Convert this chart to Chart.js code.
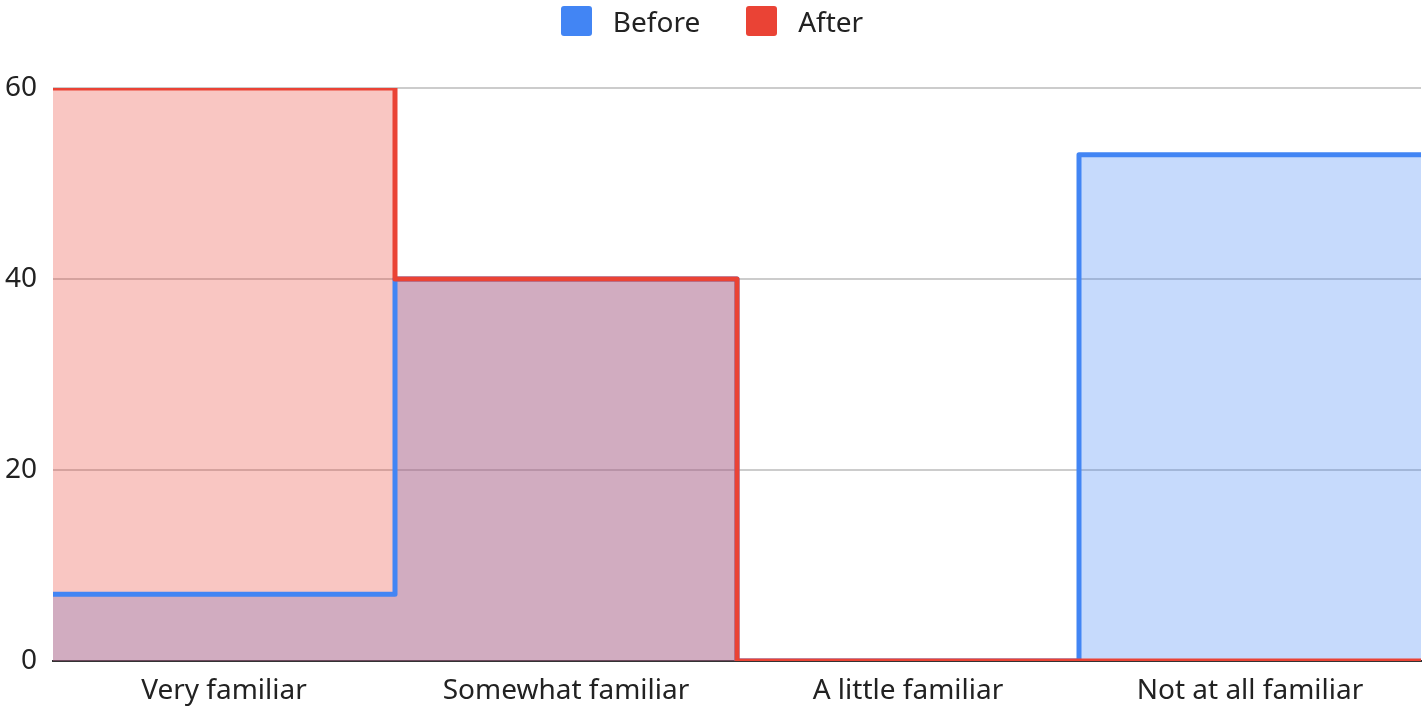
<!DOCTYPE html>
<html>
<head>
<meta charset="utf-8">
<script src="https://cdn.jsdelivr.net/npm/chart.js@4.4.1/dist/chart.umd.min.js"></script>
<style>
  html, body { margin: 0; padding: 0; background: #ffffff; }
  #wrap { width: 1424px; height: 709px; position: relative; }
  #legend {
    position: absolute; left: 0; top: 6px; width: 1424px; height: 30px;
    display: flex; justify-content: center; align-items: center; gap: 46px;
    font-family: "Noto Sans", "Open Sans", sans-serif; font-size: 28px; color: #222222;
    pointer-events: none;
  }
  .item { display: flex; align-items: center; gap: 21px; }
  .swatch { width: 31px; height: 30px; border-radius: 3px; }
</style>
</head>
<body>
<div id="wrap">
  <div id="legend"></div>
  <canvas id="chart"></canvas>
</div>
<script>
// Familiarity levels and survey counts before / after
const categories = ['Very familiar', 'Somewhat familiar', 'A little familiar', 'Not at all familiar'];
const beforeValues = [7, 40, 0, 53];
const afterValues = [60, 40, 0, 0];
const yTicks = [0, 20, 40, 60];

const BLUE = '#4285F4';
const RED = '#EA4335';
const FONT = '"Noto Sans", "Open Sans", sans-serif';

// Each category is a band [i, i+1] on a linear axis; the last value is held to the right edge.
function stepPoints(values) {
  const pts = values.map((v, i) => ({ x: i, y: v }));
  pts.push({ x: values.length, y: values[values.length - 1] });
  return pts;
}

function stepDataset(label, values, color, fillColor, order) {
  return {
    label: label,
    data: stepPoints(values),
    borderColor: color,
    backgroundColor: fillColor,
    fill: 'origin',
    stepped: true,
    borderWidth: 5,
    borderJoinStyle: 'round',
    pointRadius: 0,
    pointHoverRadius: 0,
    clip: 0,
    order: order
  };
}

const ctx = document.getElementById('chart');
const chart = new Chart(ctx, {
  type: 'line',
  data: {
    datasets: [
      stepDataset('Before', beforeValues, BLUE, 'rgba(66,133,244,0.3)', 1),
      stepDataset('After', afterValues, RED, 'rgba(234,67,53,0.3)', 0)
    ]
  },
  options: {
    responsive: true,
    maintainAspectRatio: false,
    animation: false,
    layout: { padding: { top: 88, right: 3, left: 0, bottom: 0 } },
    plugins: {
      tooltip: { enabled: false },
      legend: { display: false },
      // all area fills go down first, lines on top of them
      filler: { drawTime: 'beforeDatasetsDraw' }
    },
    scales: {
      x: {
        type: 'linear',
        min: 0,
        max: categories.length,
        afterBuildTicks: (scale) => {
          scale.ticks = categories.map((c, i) => ({ value: i + 0.5 }));
        },
        afterFit: (scale) => { scale.height = 48; },
        ticks: {
          autoSkip: false,
          maxRotation: 0,
          padding: 13,
          font: { family: FONT, size: 28 },
          color: '#222222',
          callback: (value) => categories[Math.floor(value)]
        },
        grid: { display: false, drawTicks: false },
        border: { display: true, color: '#333333', width: 2 }
      },
      y: {
        min: 0,
        max: 60,
        afterBuildTicks: (scale) => {
          scale.ticks = yTicks.map(v => ({ value: v }));
        },
        afterFit: (scale) => { scale.width = 53; },
        ticks: {
          padding: 16,
          font: { family: FONT, size: 28 },
          color: '#222222'
        },
        grid: { color: '#cccccc', lineWidth: 2, drawTicks: false },
        border: { display: false }
      }
    }
  }
});

// Legend built from the datasets, in dataset order
const legendEl = document.getElementById('legend');
chart.data.datasets.forEach(ds => {
  const item = document.createElement('div');
  item.className = 'item';
  const sw = document.createElement('span');
  sw.className = 'swatch';
  sw.style.background = ds.borderColor;
  const txt = document.createElement('span');
  txt.textContent = ds.label;
  item.appendChild(sw);
  item.appendChild(txt);
  legendEl.appendChild(item);
});
</script>
</body>
</html>
